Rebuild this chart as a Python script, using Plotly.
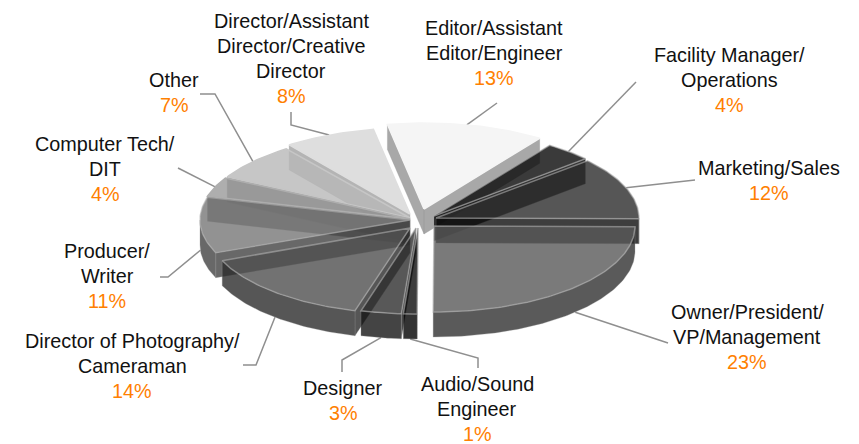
import numpy as np
import plotly.graph_objects as go

categories = [["Editor/Assistant", "Editor/Engineer"], ["Facility Manager/", "Operations"], ["Marketing/Sales"],
              ["Owner/President/", "VP/Management"], ["Audio/Sound", "Engineer"], ["Designer"],
              ["Director of Photography/", "Cameraman"], ["Producer/", "Writer"], ["Computer Tech/", "DIT"],
              ["Other"], ["Director/Assistant", "Director/Creative", "Director"]]
values = [13, 4, 12, 23, 1, 3, 14, 11, 4, 7, 8]

# styling (per slice, same order as categories)
top_colors = ["#f5f5f5", "#3a3a3a", "#565656", "#7a7a7a", "#3c3c3c", "#585858", "#727272", "#929292", "#aeaeae", "#c6c6c6", "#dedede"]
wall_colors = ["#a8a8a8", "#2c2c2c", "#3e3e3e", "#5a5a5a", "#333333", "#444444", "#565656", "#686868", "#7c7c7c", "#989898", "#b4b4b4"]
apex = [(424, 209), (434, 216), (436, 218), (434, 226), (418, 228), (416, 228), (410, 228), (410, 220), (410, 219), (410, 218), (410, 214)]
radius_x = [203, 203, 203, 201, 203, 203, 203, 210, 210, 208, 203]
draw_order = [0, 10, 1, 9, 2, 8, 7, 3, 6, 5, 4]
label_pos = [(494, 28), (729, 55), (769, 168), (747, 312), (477, 384), (343, 388), (132, 341), (107, 251), (105, 144), (174, 80), (291, 21)]
LINE_STEP = 25
leader_tail = [[(497, 103)], [(636, 82)], [(695, 180)], [(668, 343)], [(478, 358), (478, 368)], [(342, 360), (342, 372)],
               [(256, 365), (243, 365)], [(168, 277), (160, 277)], [(178, 168)], [(215, 94), (200, 94)], [(291, 125), (291, 112)]]
RY, DEPTH = 86, 25
START, SKEW, ALPHA = -9.0, 5.0, 0.8


def warp(theta):
    """Perspective of the tilted disc: near side opens, far side closes."""
    wrapped = theta % 360
    return (theta - SKEW * np.sin(np.radians(theta))
            + 2.2 * np.exp(-((wrapped - 180) / 45) ** 2)
            - 3.0 * np.exp(-((wrapped - 300) / 30) ** 2)
            - 2.0 * np.exp(-((wrapped - 351) / 15) ** 2))


def rgba(hexcol, a=ALPHA):
    v = [int(hexcol[i:i + 2], 16) for i in (1, 3, 5)]
    # colour that gives hexcol on white at this opacity
    v = [max(0, round((c - (1 - a) * 255) / a)) for c in v]
    return f"rgba({v[0]},{v[1]},{v[2]},{a})"


def arc(ax, ay, rx, p1, p2, dy=0.0):
    t = np.radians(np.linspace(p1, p2, max(3, int(abs(p2 - p1)) + 2)))
    return ax + rx * np.sin(t), ay - RY * np.cos(t) + dy


fig = go.Figure()


def poly(x, y, fill, line="rgba(150,150,150,0.3)", w=1.0):
    fig.add_trace(go.Scatter(x=list(x) + [x[0]], y=list(y) + [y[0]], mode="lines", fill="toself",
                             fillcolor=fill, line=dict(color=line, width=w), hoverinfo="skip", showlegend=False))


cum = np.concatenate([[0], np.cumsum(values)]) / sum(values) * 360 + START
edges = warp(cum)

# leader lines first, under the slices
for i, tail in enumerate(leader_tail):
    p1, p2 = edges[i], edges[i + 1]
    m = np.radians((p1 + p2) / 2)
    back = np.cos(m) > 0.05
    ax, ay = apex[i]
    sx = ax + radius_x[i] * np.sin(m)
    sy = ay - RY * np.cos(m) + (0 if back else DEPTH)
    fig.add_trace(go.Scatter(x=[sx] + [p[0] for p in tail], y=[sy] + [p[1] for p in tail], mode="lines",
                             line=dict(color="#8f8f8f", width=1.5), hoverinfo="skip", showlegend=False))

for i in draw_order:
    ax, ay = apex[i]
    rx = radius_x[i]
    p1, p2 = edges[i], edges[i + 1]
    wall = rgba(wall_colors[i])
    n1, n2 = p1 % 360, p2 % 360
    # cut face at the start edge faces the viewer on the left half
    if 180 <= n1 < 360:
        ex, ey = ax + rx * np.sin(np.radians(p1)), ay - RY * np.cos(np.radians(p1))
        poly([ax, ex, ex, ax], [ay, ey, ey + DEPTH, ay + DEPTH], wall)
    # cut face at the end edge faces the viewer on the right half
    if 0 < n2 <= 180:
        ex, ey = ax + rx * np.sin(np.radians(p2)), ay - RY * np.cos(np.radians(p2))
        poly([ax, ex, ex, ax], [ay, ey, ey + DEPTH, ay + DEPTH], wall)
    # outer rim: only the front half (90..270)
    lo, hi = max(p1, 90), min(p2, 270)
    if hi > lo:
        x1, y1 = arc(ax, ay, rx, lo, hi)
        x2, y2 = arc(ax, ay, rx, lo, hi, DEPTH)
        poly(list(x1) + list(x2[::-1]), list(y1) + list(y2[::-1]), wall)
    # top face
    xa, ya = arc(ax, ay, rx, p1, p2)
    light = int(top_colors[i][1:3], 16) >= 0xae
    rim = top_colors[i] if light else "rgba(175,175,175,0.6)"
    poly([ax] + list(xa), [ay] + list(ya), rgba(top_colors[i]), rim, 1.5)

annotations = []
FONT = "Liberation Sans, Arial, sans-serif"
for lines, v, (lx, ly) in zip(categories, values, label_pos):
    rows = [(t, "#111111") for t in lines] + [(f"{v}%", "#ff8000")]
    for k, (t, col) in enumerate(rows):
        annotations.append(dict(x=lx, y=ly + k * LINE_STEP, xref="x", yref="y", xanchor="center", yanchor="middle",
                                showarrow=False, text=t, font=dict(family=FONT, size=19.8, color=col)))

fig.update_layout(width=859, height=444, margin=dict(l=0, r=0, t=0, b=0), paper_bgcolor="white", plot_bgcolor="white",
                  showlegend=False, annotations=annotations,
                  xaxis=dict(range=[0, 859], visible=False, fixedrange=True),
                  yaxis=dict(range=[444, 0], visible=False, fixedrange=True))
fig.write_html("out.html", config=dict(displayModeBar=False), post_script="document.body.style.margin='0';")
